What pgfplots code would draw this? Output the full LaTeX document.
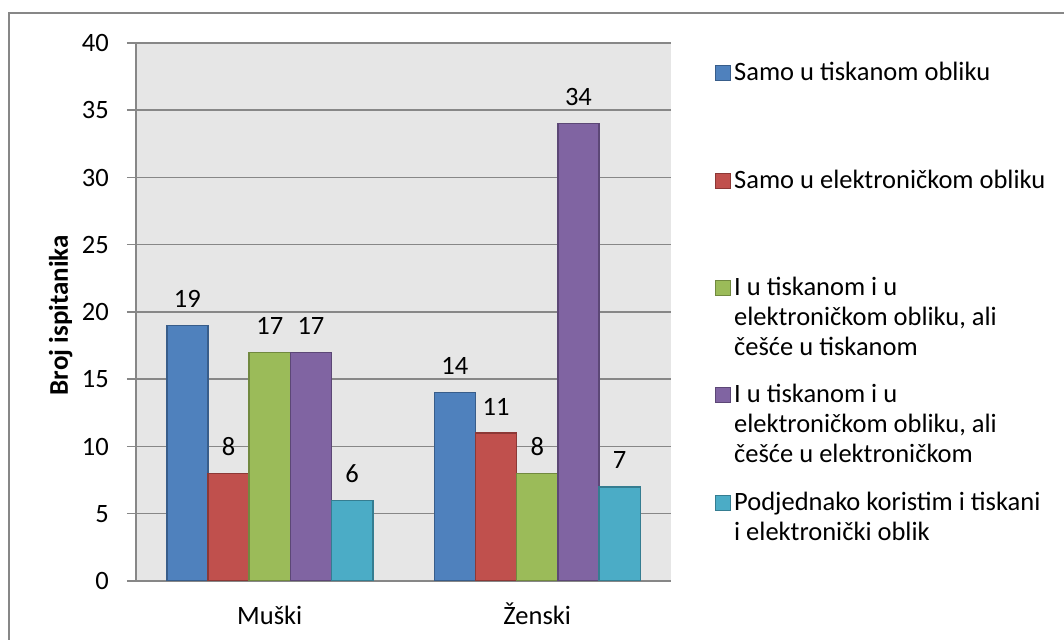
\documentclass[border=0pt]{standalone}
\usepackage{pgfplots}
\pgfplotsset{compat=1.18}
\usepackage{fontspec}
\setmainfont{Carlito}
\definecolor{c1}{HTML}{4F81BD}\definecolor{c1d}{HTML}{385D8A}
\definecolor{c2}{HTML}{C0504D}\definecolor{c2d}{HTML}{8C3836}
\definecolor{c3}{HTML}{9BBB59}\definecolor{c3d}{HTML}{71893F}
\definecolor{c4}{HTML}{8064A2}\definecolor{c4d}{HTML}{5C4776}
\definecolor{c5}{HTML}{4BACC6}\definecolor{c5d}{HTML}{357D91}
\definecolor{gridgray}{HTML}{878787}
\definecolor{plotbg}{HTML}{E6E6E6}
\newcommand{\legtxt}[1]{\parbox[t]{320pt}{\fontsize{26.5}{30}\selectfont #1}}
\begin{document}
\fontsize{26.5}{30}\selectfont
\begin{tikzpicture}[x=1pt,y=1pt]
\useasboundingbox (0,0) rectangle (1064,639);
\draw[gridgray, line width=1.5pt] (9,-5) -- (9,626) -- (1070,626);
\begin{axis}[
  at={(136pt,58pt)}, anchor=south west,
  width=535pt, height=538pt, scale only axis,
  xmin=-0.5, xmax=1.5, ymin=0, ymax=40,
  ybar=0pt, bar width=41.2pt,
  axis background/.style={fill=plotbg},
  axis x line*=bottom, axis y line*=left,
  axis line style={gridgray, line width=1.5pt},
  xtick={0,1}, xticklabels={Muški,Ženski},
  x tick style={draw=none},
  ytick={0,5,...,40},
  ymajorgrids, grid style={gridgray, line width=1.5pt},
  y tick style={gridgray, line width=1.5pt},
  tick align=outside, major tick length=9pt,
  /pgf/number format/assume math mode=true,
  tick label style={font=\fontsize{26.5}{30}\selectfont},
  xticklabel style={anchor=base, yshift=-34pt, inner sep=0pt},
  yticklabel style={anchor=east, inner sep=0pt, xshift=-18pt},
  ylabel={Broj ispitanika},
  every axis y label/.style={at={(axis description cs:-0.1275,0.494)}, rotate=90, anchor=base, font=\fontsize{27}{30}\selectfont\bfseries},
  nodes near coords,
  nodes near coords style={anchor=base, yshift=18pt, black, inner sep=0pt, font=\fontsize{26.5}{30}\selectfont},
  legend style={draw=none, fill=none, at={(1.0766,0.968)}, anchor=north west,
    row sep=85pt, column sep=3pt, nodes={inner sep=0pt, anchor=base west}},
  legend cell align=left,
  legend image code/.code={\draw[#1, line width=1pt] (0pt,0pt) rectangle (15pt,15pt);},
]
\addplot[fill=c1, draw=c1d, line width=1.5pt] coordinates {(0,19) (1,14)};
\addplot[fill=c2, draw=c2d, line width=1.5pt] coordinates {(0,8) (1,11)};
\addplot[fill=c3, draw=c3d, line width=1.5pt] coordinates {(0,17) (1,8)};
\addplot[fill=c4, draw=c4d, line width=1.5pt] coordinates {(0,17) (1,34)};
\addplot[fill=c5, draw=c5d, line width=1.5pt] coordinates {(0,6) (1,7)};
\legend{\legtxt{Samo u tiskanom obliku},
  \legtxt{Samo u elektroničkom obliku},
  \legtxt{I u tiskanom i u\\elektroničkom obliku, ali\\češće u tiskanom},
  \legtxt{I u tiskanom i u\\elektroničkom obliku, ali\\češće u elektroničkom},
  \legtxt{Podjednako koristim i tiskani\\i elektronički oblik}}
\end{axis}
\end{tikzpicture}
\end{document}
